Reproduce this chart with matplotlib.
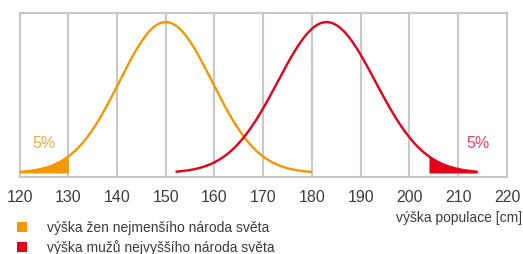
import numpy as np
import matplotlib.pyplot as plt

plt.rcParams['font.family'] = ['Liberation Sans', 'DejaVu Sans']

# height distributions (cm): mean, sd, drawn range, shaded 5% tail
women_mean, women_sd = 150.0, 9.5
women_range = [120, 180]
women_tail = [120, 130]
men_mean, men_sd = 183.0, 10.0
men_range = [152, 214]
men_tail = [204, 214]

xticks = [120, 130, 140, 150, 160, 170, 180, 190, 200, 210, 220]
labels = ['výška žen nejmenšího národa světa', 'výška mužů nejvyššího národa světa']
tail_text = '5%'

orange = '#f39800'
red = '#e2001a'
grey = '#c8c8c8'
txt = '#3c3c3c'

def bell(x, m, s):
    return np.exp(-0.5*((x-m)/s)**2)

fig = plt.figure(figsize=(5.23, 2.55), dpi=100)
ax = fig.add_axes([0.0373, 0.302, 0.932, 0.643])

for m, s, r, t, c in [(women_mean, women_sd, women_range, women_tail, orange),
                      (men_mean, men_sd, men_range, men_tail, red)]:
    x = np.linspace(r[0], r[1], 300)
    ax.plot(x, bell(x, m, s), color=c, lw=1.7, solid_capstyle='butt', zorder=3)
    xt = np.linspace(t[0], t[1], 100)
    ax.fill_between(xt, 0, bell(xt, m, s), color=c, lw=0, zorder=3)

ax.text(125, 0.205, tail_text, color='#f5a943', fontsize=11.5, ha='center', va='center')
ax.text(214, 0.205, tail_text, color='#e8425a', fontsize=11.5, ha='center', va='center')

ax.set_xlim(120, 220)
ax.set_ylim(-0.0265, 1.06)
ax.set_xticks(xticks)
ax.set_yticks([])
for v in xticks[1:-1]:
    ax.axvline(v, color=grey, lw=1.5, zorder=1)
for sp in ax.spines.values():
    sp.set_color(grey)
    sp.set_linewidth(1.5)
ax.tick_params(axis='x', length=0, pad=9, labelsize=11.5, labelcolor=txt)

fig.text(0.998, 0.145, 'výška populace [cm]', ha='right', va='center', fontsize=10, color=txt)

for i, (lab, c) in enumerate(zip(labels, [orange, red])):
    y = 1 - (228 + 20*i)/255
    fig.patches.append(plt.Rectangle((17/523, y - 5/255), 10/523, 10/255,
                                     transform=fig.transFigure, color=c, lw=0))
    fig.text(47/523, y, lab, ha='left', va='center', fontsize=10, color=txt)

plt.savefig('out.png', dpi=100)
